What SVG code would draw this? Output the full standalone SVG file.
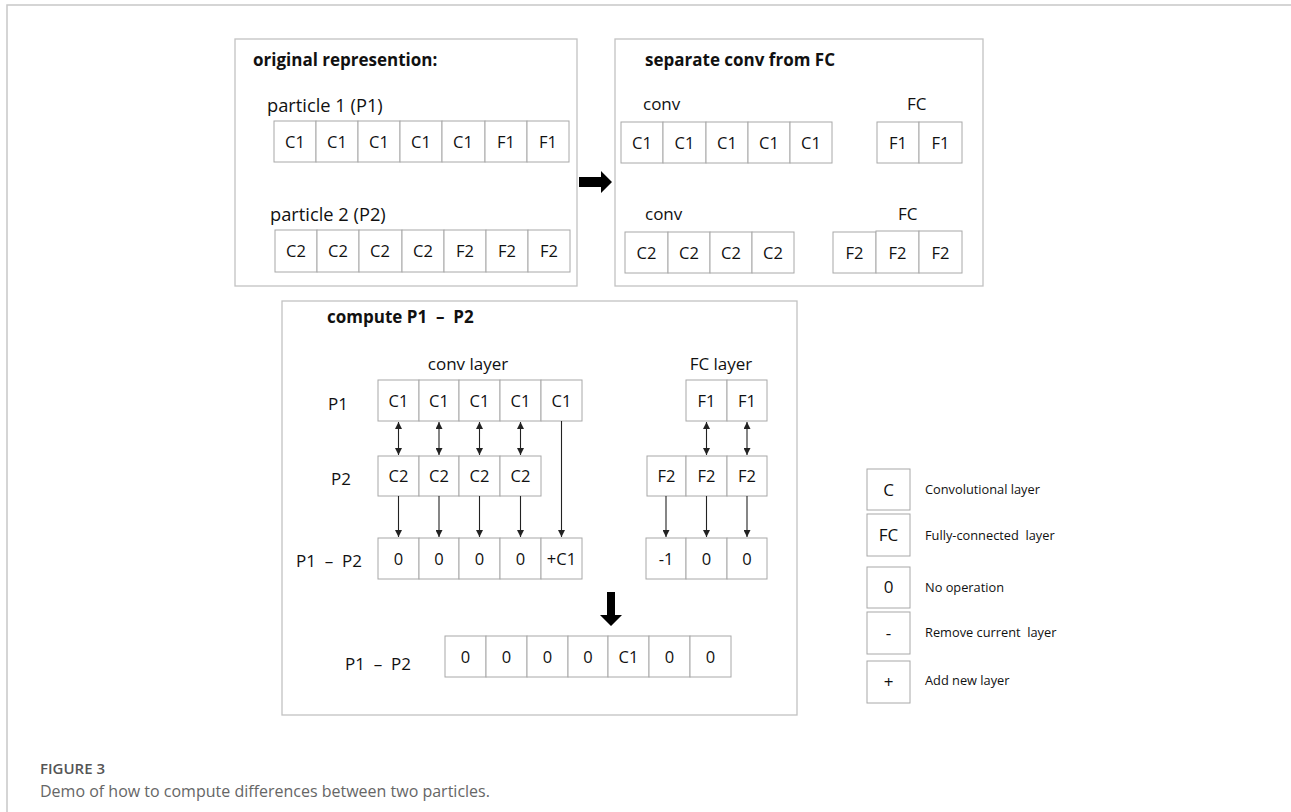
<svg xmlns="http://www.w3.org/2000/svg" width="1291" height="812" viewBox="0 0 1291 812">
  <style>
    .frame { fill: none; stroke: #c8c8c8; stroke-width: 1.5; }
    .panel { fill: #ffffff; stroke: #c2c2c2; stroke-width: 1.3; }
    .cell { fill: #ffffff; stroke: #a8a8a8; stroke-width: 1; }
    .t { font-family: "Open Sans", "Liberation Sans", sans-serif; font-size: 16.5px; fill: #111111; white-space: pre; }
    .c { text-anchor: middle; }
    .b { font-weight: bold; }
    .lbl { font-size: 17px; }
    .pl { font-size: 18.3px; }
    .lg { font-size: 12.8px; }
    .cap1 { font-family: "Open Sans", "Liberation Sans", sans-serif; font-size: 15px; font-weight: 600; fill: #555555; }
    .cap2 { font-family: "Open Sans", "Liberation Sans", sans-serif; font-size: 16px; fill: #666666; }
    .link { stroke: #222222; stroke-width: 1.1; fill: none; }
    .bigarrow { fill: #000000; }
  </style>
  <defs>
    <marker id="head" viewBox="0 0 8 8" refX="8" refY="4" markerWidth="7" markerHeight="7" markerUnits="userSpaceOnUse" orient="auto-start-reverse">
      <path d="M0,0 L8,4 L0,8 z" fill="#222222"/>
    </marker>
  </defs>

  <rect width="1291" height="812" fill="#ffffff"/>
  <path class="frame" d="M7,812 L7,5 L1291,5"/>

  <!-- panel 1: original representation -->
  <g id="panel-original">
    <rect class="panel" x="235" y="39" width="342" height="247"/>
    <text class="t b lbl" x="253" y="66">original represention:</text>
    <text class="t pl" x="267" y="112">particle 1 (P1)</text>
    <text class="t pl" x="270" y="221">particle 2 (P2)</text>
  </g>
  <g id="p1-original">
    <rect class="cell" x="274" y="121" width="42" height="41"/>
    <rect class="cell" x="316" y="121" width="42" height="41"/>
    <rect class="cell" x="358" y="121" width="42" height="41"/>
    <rect class="cell" x="400" y="121" width="42" height="41"/>
    <rect class="cell" x="442" y="121" width="43" height="41"/>
    <rect class="cell" x="485" y="121" width="42" height="41"/>
    <rect class="cell" x="527" y="121" width="42" height="41"/>
    <text class="t c" x="295" y="148">C1</text>
    <text class="t c" x="337" y="148">C1</text>
    <text class="t c" x="379" y="148">C1</text>
    <text class="t c" x="421" y="148">C1</text>
    <text class="t c" x="463" y="148">C1</text>
    <text class="t c" x="506" y="148">F1</text>
    <text class="t c" x="548" y="148">F1</text>
  </g>
  <g id="p2-original">
    <rect class="cell" x="275" y="230" width="42" height="42"/>
    <rect class="cell" x="317" y="230" width="42" height="42"/>
    <rect class="cell" x="359" y="230" width="43" height="42"/>
    <rect class="cell" x="402" y="230" width="42" height="42"/>
    <rect class="cell" x="444" y="230" width="42" height="42"/>
    <rect class="cell" x="486" y="230" width="42" height="42"/>
    <rect class="cell" x="528" y="230" width="42" height="42"/>
    <text class="t c" x="296" y="257">C2</text>
    <text class="t c" x="338" y="257">C2</text>
    <text class="t c" x="380" y="257">C2</text>
    <text class="t c" x="423" y="257">C2</text>
    <text class="t c" x="465" y="257">F2</text>
    <text class="t c" x="507" y="257">F2</text>
    <text class="t c" x="549" y="257">F2</text>
  </g>

  <!-- panel 2: conv and FC parts kept apart -->
  <g id="panel-separate">
    <rect class="panel" x="615" y="39" width="368" height="247"/>
    <text class="t b lbl" x="645" y="66">separate conv from FC</text>
    <text class="t lbl" x="643" y="110">conv</text>
    <text class="t lbl" x="907" y="110">FC</text>
    <text class="t lbl" x="645" y="220">conv</text>
    <text class="t lbl" x="898" y="220">FC</text>
  </g>
  <g id="p1-conv">
    <rect class="cell" x="621" y="122" width="42" height="41"/>
    <rect class="cell" x="663" y="122" width="43" height="41"/>
    <rect class="cell" x="706" y="122" width="42" height="41"/>
    <rect class="cell" x="748" y="122" width="42" height="41"/>
    <rect class="cell" x="790" y="122" width="42" height="41"/>
    <text class="t c" x="642" y="149">C1</text>
    <text class="t c" x="684.5" y="149">C1</text>
    <text class="t c" x="727" y="149">C1</text>
    <text class="t c" x="769" y="149">C1</text>
    <text class="t c" x="811" y="149">C1</text>
  </g>
  <g id="p1-fc">
    <rect class="cell" x="877" y="122" width="42" height="41"/>
    <rect class="cell" x="919" y="122" width="43" height="41"/>
    <text class="t c" x="898" y="149">F1</text>
    <text class="t c" x="940.5" y="149">F1</text>
  </g>
  <g id="p2-conv">
    <rect class="cell" x="625" y="232" width="43" height="41"/>
    <rect class="cell" x="668" y="232" width="42" height="41"/>
    <rect class="cell" x="710" y="232" width="42" height="41"/>
    <rect class="cell" x="752" y="232" width="42" height="41"/>
    <text class="t c" x="646.5" y="259">C2</text>
    <text class="t c" x="689" y="259">C2</text>
    <text class="t c" x="731" y="259">C2</text>
    <text class="t c" x="773" y="259">C2</text>
  </g>
  <g id="p2-fc">
    <rect class="cell" x="833" y="232" width="43" height="41"/>
    <rect class="cell" x="876" y="231" width="43" height="42"/>
    <rect class="cell" x="919" y="231" width="43" height="42"/>
    <text class="t c" x="854.5" y="259">F2</text>
    <text class="t c" x="897.5" y="259">F2</text>
    <text class="t c" x="940.5" y="259">F2</text>
  </g>

  <!-- panel 3: difference computation -->
  <g id="panel-compute">
    <rect class="panel" x="282" y="301" width="515" height="414"/>
    <text class="t b lbl" x="327" y="323">compute P1  –  P2</text>
    <text class="t c lbl" x="468" y="370">conv layer</text>
    <text class="t c lbl" x="721" y="370">FC layer</text>
    <text class="t lbl" x="328" y="410">P1</text>
    <text class="t lbl" x="331" y="485">P2</text>
    <text class="t lbl" x="296" y="567">P1  –  P2</text>
    <text class="t lbl" x="345" y="670">P1  –  P2</text>
  </g>
  <g id="p1-conv-row">
    <rect class="cell" x="378" y="380" width="41" height="41"/>
    <rect class="cell" x="419" y="380" width="40" height="41"/>
    <rect class="cell" x="459" y="380" width="41" height="41"/>
    <rect class="cell" x="500" y="380" width="41" height="41"/>
    <rect class="cell" x="541" y="380" width="41" height="41"/>
    <text class="t c" x="398.5" y="407">C1</text>
    <text class="t c" x="439" y="407">C1</text>
    <text class="t c" x="479.5" y="407">C1</text>
    <text class="t c" x="520.5" y="407">C1</text>
    <text class="t c" x="561.5" y="407">C1</text>
  </g>
  <g id="p1-fc-row">
    <rect class="cell" x="686" y="380" width="41" height="41"/>
    <rect class="cell" x="727" y="380" width="40" height="41"/>
    <text class="t c" x="706.5" y="407">F1</text>
    <text class="t c" x="747" y="407">F1</text>
  </g>
  <g id="p2-conv-row">
    <rect class="cell" x="378" y="456" width="41" height="40"/>
    <rect class="cell" x="419" y="456" width="40" height="40"/>
    <rect class="cell" x="459" y="456" width="41" height="40"/>
    <rect class="cell" x="500" y="456" width="41" height="40"/>
    <text class="t c" x="398.5" y="482">C2</text>
    <text class="t c" x="439" y="482">C2</text>
    <text class="t c" x="479.5" y="482">C2</text>
    <text class="t c" x="520.5" y="482">C2</text>
  </g>
  <g id="p2-fc-row">
    <rect class="cell" x="647" y="456" width="39" height="40"/>
    <rect class="cell" x="686" y="456" width="41" height="40"/>
    <rect class="cell" x="727" y="456" width="40" height="40"/>
    <text class="t c" x="666.5" y="482">F2</text>
    <text class="t c" x="706.5" y="482">F2</text>
    <text class="t c" x="747" y="482">F2</text>
  </g>
  <g id="diff-conv-row">
    <rect class="cell" x="378" y="538" width="41" height="41"/>
    <rect class="cell" x="419" y="538" width="40" height="41"/>
    <rect class="cell" x="459" y="538" width="41" height="41"/>
    <rect class="cell" x="500" y="538" width="41" height="41"/>
    <rect class="cell" x="541" y="538" width="41" height="41"/>
    <text class="t c" x="398.5" y="565">0</text>
    <text class="t c" x="439" y="565">0</text>
    <text class="t c" x="479.5" y="565">0</text>
    <text class="t c" x="520.5" y="565">0</text>
    <text class="t c" x="561.5" y="565">+C1</text>
  </g>
  <g id="diff-fc-row">
    <rect class="cell" x="646" y="538" width="40" height="41"/>
    <rect class="cell" x="686" y="538" width="41" height="41"/>
    <rect class="cell" x="727" y="538" width="40" height="41"/>
    <text class="t c" x="666" y="565">-1</text>
    <text class="t c" x="706.5" y="565">0</text>
    <text class="t c" x="747" y="565">0</text>
  </g>
  <g id="diff-merged-row">
    <rect class="cell" x="445" y="636" width="41" height="41"/>
    <rect class="cell" x="486" y="636" width="41" height="41"/>
    <rect class="cell" x="527" y="636" width="41" height="41"/>
    <rect class="cell" x="568" y="636" width="40" height="41"/>
    <rect class="cell" x="608" y="636" width="41" height="41"/>
    <rect class="cell" x="649" y="636" width="41" height="41"/>
    <rect class="cell" x="690" y="636" width="41" height="41"/>
    <text class="t c" x="465.5" y="663">0</text>
    <text class="t c" x="506.5" y="663">0</text>
    <text class="t c" x="547.5" y="663">0</text>
    <text class="t c" x="588" y="663">0</text>
    <text class="t c" x="628.5" y="663">C1</text>
    <text class="t c" x="669.5" y="663">0</text>
    <text class="t c" x="710.5" y="663">0</text>
  </g>

  <!-- legend -->
  <g id="legend">
    <rect class="cell" x="867" y="469" width="43" height="41"/>
    <rect class="cell" x="867" y="514" width="43" height="42"/>
    <rect class="cell" x="867" y="567" width="43" height="41"/>
    <rect class="cell" x="867" y="612" width="43" height="42"/>
    <rect class="cell" x="867" y="661" width="43" height="42"/>
    <text class="t c lbl" x="888.5" y="496">C</text>
    <text class="t c lbl" x="888.5" y="541">FC</text>
    <text class="t c lbl" x="888.5" y="593">0</text>
    <text class="t c lbl" x="888.5" y="639">-</text>
    <text class="t c lbl" x="888.5" y="688">+</text>
    <text class="t lg" x="925" y="494">Convolutional layer</text>
    <text class="t lg" x="925" y="540">Fully-connected  layer</text>
    <text class="t lg" x="925" y="592">No operation</text>
    <text class="t lg" x="925" y="637">Remove current  layer</text>
    <text class="t lg" x="925" y="685">Add new layer</text>
  </g>

  <!-- connectors -->
  <g id="connectors">
    <path class="bigarrow" d="M579,177 L601,177 L601,171 L612,182 L601,193 L601,187 L579,187 Z"/>
    <path class="bigarrow" d="M607,592 L615,592 L615,615 L622,615 L611,626 L600,615 L607,615 Z"/>
    <line class="link" x1="398.5" y1="422" x2="398.5" y2="455" marker-start="url(#head)" marker-end="url(#head)"/>
    <line class="link" x1="439" y1="422" x2="439" y2="455" marker-start="url(#head)" marker-end="url(#head)"/>
    <line class="link" x1="479.5" y1="422" x2="479.5" y2="455" marker-start="url(#head)" marker-end="url(#head)"/>
    <line class="link" x1="520.5" y1="422" x2="520.5" y2="455" marker-start="url(#head)" marker-end="url(#head)"/>
    <line class="link" x1="706.5" y1="422" x2="706.5" y2="455" marker-start="url(#head)" marker-end="url(#head)"/>
    <line class="link" x1="747" y1="422" x2="747" y2="455" marker-start="url(#head)" marker-end="url(#head)"/>
    <line class="link" x1="398.5" y1="496" x2="398.5" y2="537" marker-end="url(#head)"/>
    <line class="link" x1="439" y1="496" x2="439" y2="537" marker-end="url(#head)"/>
    <line class="link" x1="479.5" y1="496" x2="479.5" y2="537" marker-end="url(#head)"/>
    <line class="link" x1="520.5" y1="496" x2="520.5" y2="537" marker-end="url(#head)"/>
    <line class="link" x1="561.5" y1="421" x2="561.5" y2="537" marker-end="url(#head)"/>
    <line class="link" x1="666" y1="496" x2="666" y2="537" marker-end="url(#head)"/>
    <line class="link" x1="706.5" y1="496" x2="706.5" y2="537" marker-end="url(#head)"/>
    <line class="link" x1="747" y1="496" x2="747" y2="537" marker-end="url(#head)"/>
  </g>

  <!-- caption -->
  <text class="cap1" x="40" y="774">FIGURE 3</text>
  <text class="cap2" x="40" y="797">Demo of how to compute differences between two particles.</text>
</svg>
